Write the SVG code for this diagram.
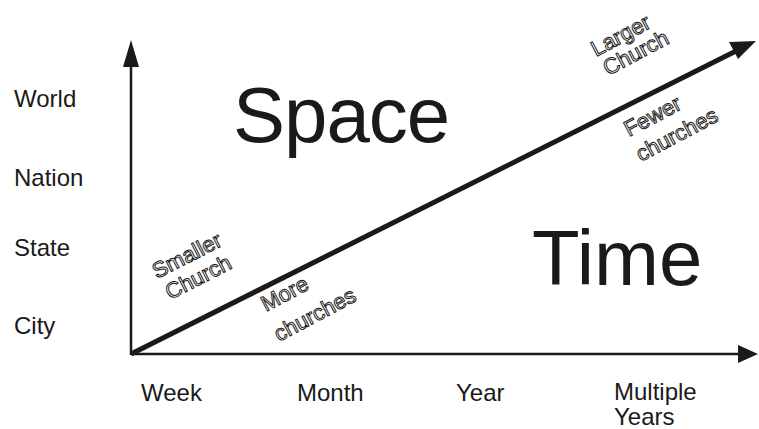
<svg xmlns="http://www.w3.org/2000/svg" width="759" height="429" viewBox="0 0 759 429">
<style>
.lbl{font-family:"Liberation Sans",Arial,sans-serif;font-size:24px;fill:#1a1a1a}
.big{font-family:"Liberation Sans",Arial,sans-serif;font-size:78px;fill:#1a1a1a}
.rot{font-family:"Liberation Sans",Arial,sans-serif;font-size:22px;fill:none;stroke:#1a1a1a;stroke-width:1}
.ax{stroke:#1a1a1a;stroke-width:2.5;fill:none}
</style>
<rect width="759" height="429" fill="#fff"/>
<g id="connectors">
<line class="ax" x1="131" y1="355" x2="131" y2="66"/>
<polygon points="131,40 123,67 139,67" fill="#1a1a1a"/>
<line class="ax" x1="131" y1="354" x2="740" y2="354"/>
<polygon points="758,354 738,345 738,363" fill="#1a1a1a"/>
<line x1="131" y1="354" x2="736" y2="51" stroke="#1a1a1a" stroke-width="5"/>
<polygon points="756,41 729,42 738,59" fill="#1a1a1a"/>
</g>
<g id="yaxis-labels">
<text class="lbl" x="14" y="107">World</text>
<text class="lbl" x="14" y="186">Nation</text>
<text class="lbl" x="14" y="256">State</text>
<text class="lbl" x="14" y="334">City</text>
</g>
<g id="xaxis-labels">
<text class="lbl" x="141" y="401">Week</text>
<text class="lbl" x="297" y="401">Month</text>
<text class="lbl" x="456" y="401">Year</text>
<text class="lbl" x="614" y="400">Multiple</text>
<text class="lbl" x="614" y="425">Years</text>
</g>
<g id="space"><text class="big" x="233" y="142" letter-spacing="-1">Space</text></g>
<g id="time"><text class="big" x="532" y="285">Time</text></g>
<g id="smaller-church">
<text class="rot" transform="translate(157,279) rotate(-27)">Smaller</text>
<text class="rot" transform="translate(170,300) rotate(-27)">Church</text>
</g>
<g id="more-churches">
<text class="rot" transform="translate(266,312) rotate(-28)">More</text>
<text class="rot" transform="translate(279,342) rotate(-28)">churches</text>
</g>
<g id="larger-church">
<text class="rot" transform="translate(596,57) rotate(-28)">Larger</text>
<text class="rot" transform="translate(608,76) rotate(-28)">Church</text>
</g>
<g id="fewer-churches">
<text class="rot" transform="translate(629,137) rotate(-28)">Fewer</text>
<text class="rot" transform="translate(641,162) rotate(-28)">churches</text>
</g>
</svg>
